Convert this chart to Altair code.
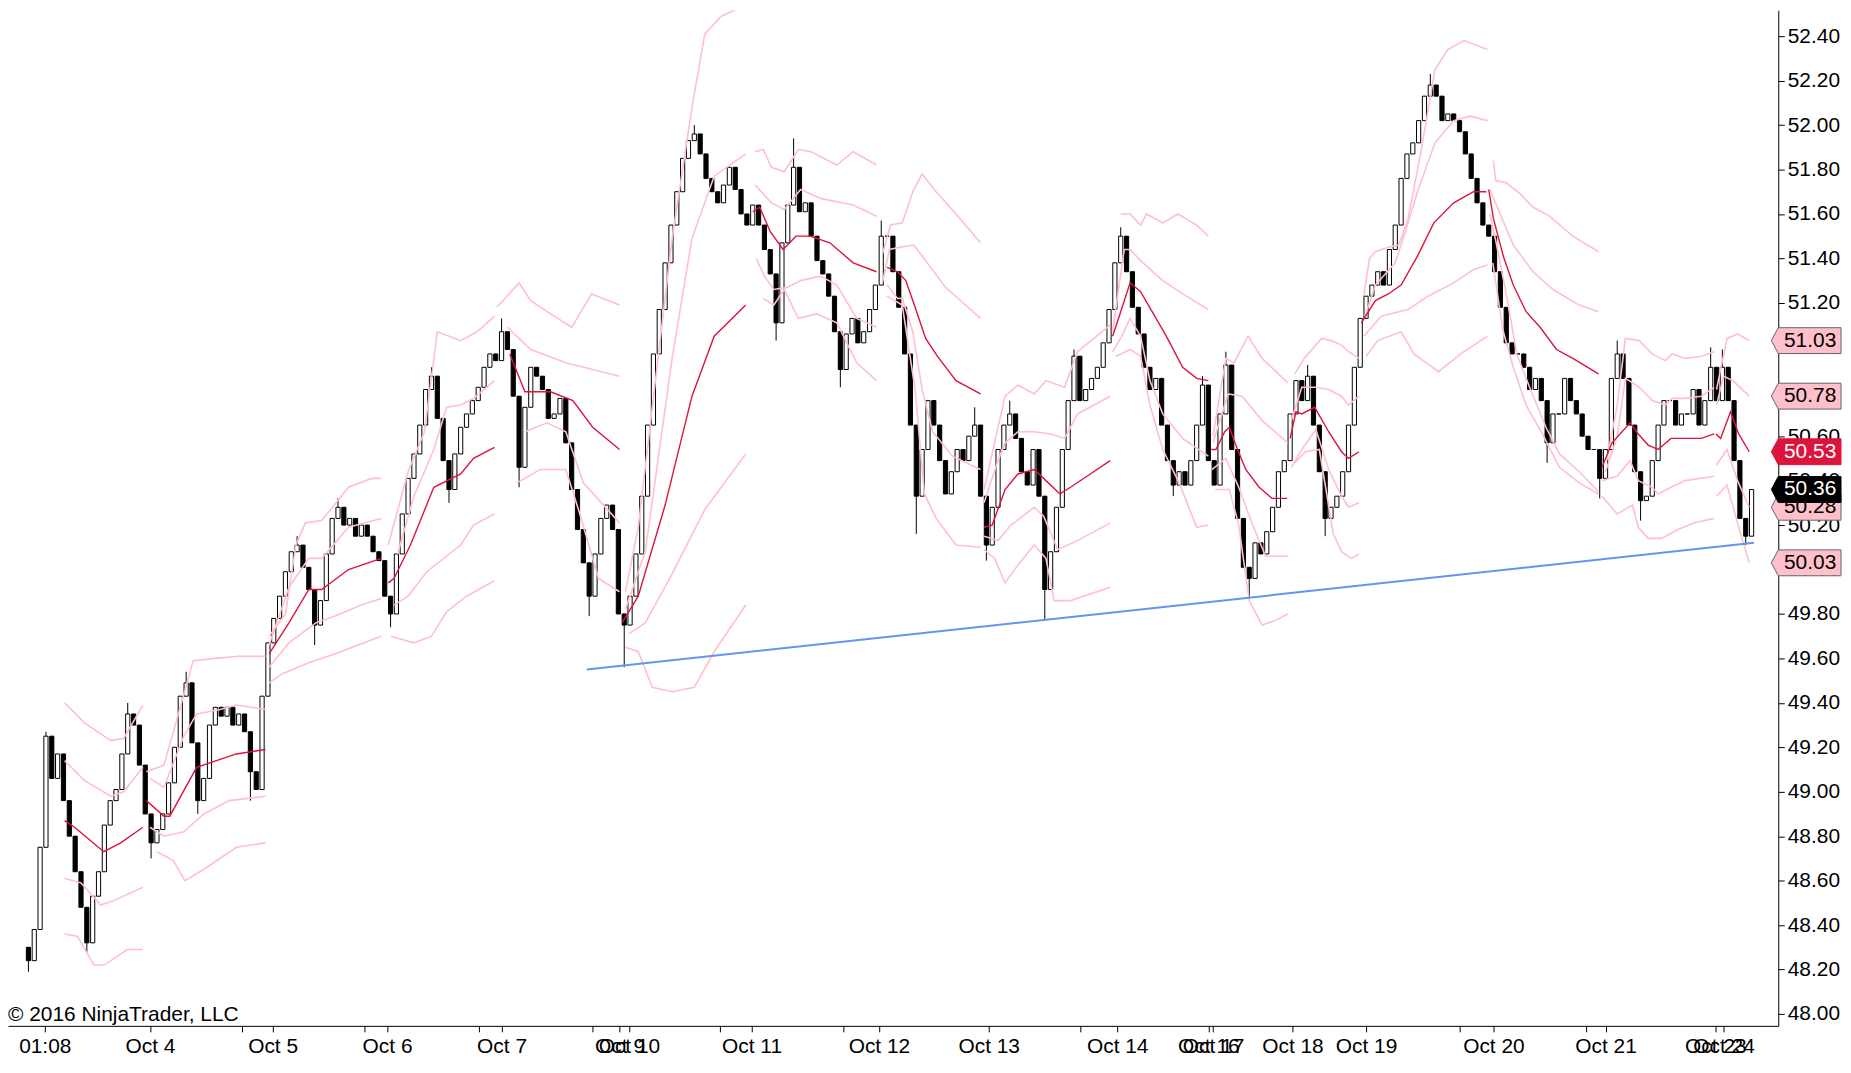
import altair as alt
import pandas as pd

# ---------------- data ----------------
# closing prices, one per bar (bar index 0..295)
closes = [
    48.24, 48.38, 48.75, 49.25, 49.06, 49.17, 48.96, 48.80, 48.64, 48.48,
    48.32, 48.53, 48.64, 48.85, 48.96, 49.01, 49.17, 49.35, 49.30, 49.12,
    48.90, 48.77, 48.83, 48.90, 49.04, 49.20, 49.43, 49.49, 49.22, 48.96,
    49.06, 49.30, 49.38, 49.34, 49.38, 49.30, 49.35, 49.27, 49.09, 49.01,
    49.43, 49.67, 49.78, 49.88, 49.99, 50.08, 50.11, 50.01, 49.91, 49.75,
    49.86, 50.07, 50.23, 50.28, 50.20, 50.23, 50.15, 50.20, 50.15, 50.08,
    50.04, 49.88, 49.80, 50.07, 50.25, 50.41, 50.52, 50.65, 50.81, 50.87,
    50.68, 50.49, 50.36, 50.52, 50.64, 50.70, 50.76, 50.82, 50.91, 50.97,
    50.94, 51.07, 50.99, 50.78, 50.46, 50.73, 50.91, 50.87, 50.81, 50.68,
    50.70, 50.77, 50.57, 50.36, 50.18, 50.03, 49.88, 50.07, 50.23, 50.29,
    50.18, 49.80, 49.75, 49.88, 50.07, 50.33, 50.65, 50.97, 51.17, 51.38,
    51.55, 51.70, 51.85, 51.93, 51.96, 51.87, 51.76, 51.70, 51.65, 51.73,
    51.81, 51.71, 51.60, 51.55, 51.64, 51.55, 51.44, 51.33, 51.11, 51.47,
    51.64, 51.81, 51.61, 51.65, 51.50, 51.39, 51.33, 51.23, 51.07, 50.90,
    51.06, 51.13, 51.02, 51.07, 51.17, 51.28, 51.50, 51.50, 51.34, 51.18,
    50.97, 50.65, 50.33, 50.54, 50.76, 50.65, 50.49, 50.34, 50.44, 50.54,
    50.49, 50.60, 50.65, 50.33, 50.11, 50.28, 50.54, 50.65, 50.70, 50.59,
    50.44, 50.38, 50.54, 50.33, 49.91, 50.08, 50.28, 50.54, 50.76, 50.96,
    50.76, 50.81, 50.86, 50.91, 51.02, 51.17, 51.38, 51.50, 51.34, 51.18,
    51.06, 50.91, 50.81, 50.86, 50.65, 50.49, 50.38, 50.44, 50.38, 50.49,
    50.65, 50.83, 50.49, 50.38, 50.70, 50.92, 50.54, 50.23, 50.01, 49.96,
    50.12, 50.07, 50.17, 50.28, 50.44, 50.49, 50.70, 50.85, 50.76, 50.87,
    50.65, 50.44, 50.23, 50.28, 50.33, 50.44, 50.65, 50.91, 51.13, 51.23,
    51.28, 51.34, 51.28, 51.44, 51.55, 51.76, 51.87, 51.92, 52.02, 52.13,
    52.18, 52.13, 52.02, 52.05, 52.02, 51.97, 51.87, 51.76, 51.65, 51.55,
    51.50, 51.34, 51.18, 51.02, 50.97, 50.97, 50.91, 50.81, 50.86, 50.76,
    50.57, 50.70, 50.70, 50.86, 50.76, 50.70, 50.60, 50.54, 50.54, 50.41,
    50.54, 50.86, 50.97, 50.86, 50.65, 50.44, 50.31, 50.33, 50.49, 50.65,
    50.76, 50.76, 50.65, 50.70, 50.70, 50.81, 50.65, 50.76, 50.91, 50.76,
    50.91, 50.76, 50.49, 50.23, 50.15, 50.36,
]
first_open = 48.30

# wick extremes seen on individual bars (bar index -> price)
wick_highs = {3: 49.27, 17: 49.40, 27: 49.54, 46: 50.15, 53: 50.32, 69: 50.91,
              81: 51.13, 114: 52.00, 131: 51.94, 146: 51.57, 162: 50.73,
              168: 50.76, 179: 50.99, 187: 51.54, 201: 50.87, 205: 50.98,
              219: 50.92, 240: 52.23, 272: 51.03, 288: 51.00, 290: 50.99}
wick_lows = {0: 48.19, 10: 48.28, 21: 48.70, 29: 48.90, 38: 48.96, 49: 49.66,
             62: 49.74, 72: 50.30, 84: 50.37, 96: 49.79, 102: 49.56,
             128: 51.03, 139: 50.82, 152: 50.16, 164: 50.04, 174: 49.77,
             196: 50.33, 209: 49.87, 222: 50.15, 260: 50.48, 269: 50.32,
             276: 50.22, 294: 50.11}

# x-axis ticks (bar positions) and their labels ('' = unlabeled tick)
tick_pos = [2.8, 20.8, 36.6, 41.8, 57.6, 61.4, 77.2, 81.0, 96.6, 101.2, 102.8,
            118.4, 123.8, 139.6, 145.6, 164.4, 180.0, 186.4, 202.0, 202.8,
            216.4, 229.0, 245.0, 250.8, 266.6, 270.0, 288.8, 290.2]
tick_text = ["01:08", "Oct 4", "", "Oct 5", "", "Oct 6", "", "Oct 7", "",
             "Oct 9", "Oct 10", "", "Oct 11", "", "Oct 12", "Oct 13", "",
             "Oct 14", "Oct 16", "Oct 17", "Oct 18", "Oct 19", "", "Oct 20",
             "", "Oct 21", "Oct 23", "Oct 24"]

price_ticks = [round(48.0 + 0.2 * k, 2) for k in range(23)]

# session bands: lists of segments, each a list of (bar, price)
mid_segs = [
    [(6.2, 48.87), (7.9, 48.84), (12.9, 48.73), (15.8, 48.77), (19.6, 48.84)],
    [(20.2, 48.96), (23.2, 48.89), (24.2, 48.89), (28.8, 49.11), (35.6, 49.17), (40.6, 49.19)],
    [(41.2, 49.62), (44.6, 49.76), (48.0, 49.91), (50.2, 49.91), (54.8, 50.00), (60.4, 50.05)],
    [(61.6, 49.94), (62.6, 49.96), (65.4, 50.11), (69.4, 50.37), (74.0, 50.43), (76.2, 50.50), (79.8, 50.55)],
    [(82.4, 50.97), (85.0, 50.80), (89.4, 50.80), (93.2, 50.76), (96.6, 50.64), (101.2, 50.54)],
    [(101.6, 49.76), (104.4, 49.88), (109.0, 50.29), (113.6, 50.78), (117.4, 51.05), (122.8, 51.19)],
    [(124.0, 51.61), (125.2, 51.63), (127.0, 51.52), (129.2, 51.44), (131.4, 51.50), (133.8, 51.50),
     (137.2, 51.47), (141.2, 51.38), (145.2, 51.34)],
    [(147.0, 51.36), (148.8, 51.34), (150.2, 51.30), (151.8, 51.18), (153.6, 51.04), (155.6, 50.96),
     (158.8, 50.85), (163.0, 50.79)],
    [(163.6, 50.19), (165.0, 50.20), (167.2, 50.36), (169.4, 50.43), (172.2, 50.45), (174.2, 50.40),
     (176.6, 50.34), (178.4, 50.37), (181.8, 50.43), (185.2, 50.49)],
    [(185.6, 51.05), (187.0, 51.16), (188.6, 51.29), (190.4, 51.25), (192.6, 51.15), (194.8, 51.05),
     (197.6, 50.91), (200.0, 50.86), (202.0, 50.85)],
    [(202.5, 50.54), (203.3, 50.54), (204.8, 50.62), (205.6, 50.64), (206.7, 50.56), (208.4, 50.45),
     (210.7, 50.37), (212.9, 50.32), (215.5, 50.32)],
    [(216.0, 50.59), (217.0, 50.71), (218.0, 50.70), (220.2, 50.73), (222.6, 50.62), (224.8, 50.53),
     (226.0, 50.50), (227.8, 50.53)],
    [(228.2, 51.11), (230.6, 51.21), (232.8, 51.24), (235.0, 51.28), (237.8, 51.41), (240.6, 51.56),
     (244.0, 51.65), (247.4, 51.70), (249.6, 51.70)],
    [(250.0, 51.71), (250.8, 51.58), (252.5, 51.41), (254.2, 51.28), (256.4, 51.16), (258.8, 51.09),
     (261.6, 50.99), (264.4, 50.95), (268.8, 50.88)],
    [(269.4, 50.46), (271.1, 50.57), (274.2, 50.66), (275.6, 50.61), (277.3, 50.56), (279.0, 50.54),
     (281.2, 50.59), (283.6, 50.59), (286.4, 50.59), (288.6, 50.61)],
    [(288.9, 50.61), (289.7, 50.59), (291.4, 50.71), (292.8, 50.61), (294.6, 50.53)],
]
up2_segs = [
    [(6.2, 49.40), (9.6, 49.31), (14.1, 49.23), (16.3, 49.24), (19.6, 49.39)],
    [(20.2, 49.09), (23.2, 49.12), (26.0, 49.38), (28.2, 49.59), (32.0, 49.60), (36.0, 49.61), (40.6, 49.61)],
    [(41.2, 49.70), (44.0, 49.80), (45.8, 50.11), (47.4, 50.21), (50.2, 50.22), (54.8, 50.37), (58.8, 50.41), (60.4, 50.41)],
    [(61.6, 50.11), (65.0, 50.44), (67.8, 50.62), (70.0, 51.07), (74.0, 51.03), (76.8, 51.07), (79.8, 51.14)],
    [(80.2, 51.18), (84.0, 51.29), (86.0, 51.21), (89.4, 51.15), (93.0, 51.09), (96.4, 51.24), (101.2, 51.19)],
    [(102.2, 49.90), (104.4, 50.19), (110.2, 51.49), (113.6, 52.08), (115.8, 52.41), (118.6, 52.49), (122.8, 52.54)],
    [(124.4, 51.88), (125.8, 51.89), (127.2, 51.81), (129.4, 51.79), (131.8, 51.89), (134.0, 51.88),
     (138.4, 51.82), (141.2, 51.88), (145.2, 51.82)],
    [(146.2, 51.42), (147.6, 51.55), (149.6, 51.56), (151.4, 51.70), (153.0, 51.78), (155.4, 51.70),
     (158.8, 51.60), (163.0, 51.47)],
    [(163.6, 50.36), (167.2, 50.78), (169.4, 50.83), (172.2, 50.79), (174.2, 50.85), (177.4, 50.82),
     (179.6, 50.98), (185.2, 51.10)],
    [(187.0, 51.60), (188.6, 51.60), (190.4, 51.55), (191.4, 51.60), (194.2, 51.56), (196.8, 51.60),
     (200.0, 51.55), (202.0, 51.50)],
    [(202.8, 50.60), (205.0, 50.95), (206.4, 50.93), (208.8, 51.05), (211.2, 50.95), (215.6, 50.84)],
    [(216.8, 50.88), (218.4, 50.95), (221.4, 51.04), (223.0, 51.03), (224.8, 51.01), (226.0, 50.98), (227.8, 50.95)],
    [(228.6, 51.23), (229.6, 51.40), (230.6, 51.43), (232.8, 51.45), (234.6, 51.46), (236.2, 51.58),
     (238.4, 51.88), (240.8, 52.25), (243.0, 52.34), (245.8, 52.38), (249.8, 52.34)],
    [(250.8, 51.84), (251.2, 51.75), (253.0, 51.74), (255.4, 51.69), (257.6, 51.63), (260.4, 51.59),
     (264.4, 51.50), (268.8, 51.43)],
    [(270.2, 50.49), (272.0, 50.74), (273.4, 51.04), (275.8, 51.03), (278.0, 50.97), (280.2, 50.94),
     (281.4, 50.97), (283.6, 50.95), (286.4, 50.96), (288.6, 50.98)],
    [(289.0, 50.81), (290.8, 51.04), (292.6, 51.06), (294.6, 51.03)],
]
up1_segs = [
    [(6.2, 49.14), (9.6, 49.05), (14.1, 48.98), (16.3, 49.00), (19.6, 49.11)],
    [(20.8, 49.06), (23.2, 49.02), (26.6, 49.25), (28.8, 49.35), (32.8, 49.37), (35.6, 49.39), (40.6, 49.37)],
    [(41.2, 49.66), (44.6, 49.92), (48.0, 50.05), (50.2, 50.05), (54.8, 50.19), (60.4, 50.23)],
    [(63.2, 50.07), (66.0, 50.33), (69.4, 50.54), (71.6, 50.73), (74.0, 50.74), (76.2, 50.77), (79.8, 50.85)],
    [(82.0, 51.09), (86.0, 50.99), (92.0, 50.93), (101.2, 50.87)],
    [(102.2, 49.82), (105.6, 50.08), (110.2, 50.95), (113.6, 51.49), (117.4, 51.77), (122.8, 51.87)],
    [(124.4, 51.73), (127.2, 51.65), (129.4, 51.62), (132.2, 51.71), (135.6, 51.67), (141.2, 51.64), (145.2, 51.59)],
    [(146.2, 51.29), (147.4, 51.44), (149.2, 51.45), (151.6, 51.46), (153.6, 51.39), (157.0, 51.27), (163.0, 51.13)],
    [(163.6, 50.30), (166.0, 50.49), (167.2, 50.57), (169.4, 50.62), (172.2, 50.62), (175.0, 50.61),
     (177.4, 50.59), (179.6, 50.70), (185.2, 50.78)],
    [(185.6, 51.07), (187.6, 51.44), (188.6, 51.44), (190.4, 51.39), (194.2, 51.30), (197.6, 51.24), (202.0, 51.17)],
    [(202.8, 50.57), (205.4, 50.79), (207.8, 50.78), (211.2, 50.67), (215.6, 50.57)],
    [(216.2, 50.67), (218.0, 50.82), (220.4, 50.82), (222.6, 50.81), (224.8, 50.78), (226.0, 50.74), (227.8, 50.78)],
    [(228.8, 51.14), (230.6, 51.28), (234.0, 51.38), (235.6, 51.51), (237.8, 51.70), (240.8, 51.92),
     (244.0, 52.02), (246.8, 52.04), (249.8, 52.02)],
    [(250.2, 51.71), (251.8, 51.61), (254.2, 51.46), (257.6, 51.34), (261.0, 51.26), (265.5, 51.19), (268.8, 51.16)],
    [(270.0, 50.44), (272.0, 50.60), (273.4, 50.86), (275.8, 50.82), (278.0, 50.76), (280.2, 50.74),
     (281.4, 50.77), (283.6, 50.77), (286.4, 50.78), (288.6, 50.82)],
    [(289.0, 50.74), (290.2, 50.87), (291.8, 50.85), (294.6, 50.78)],
]
lo1_segs = [
    [(6.2, 48.61), (9.0, 48.59), (12.4, 48.49), (14.6, 48.51), (19.6, 48.57)],
    [(20.8, 48.84), (23.2, 48.80), (26.6, 48.82), (30.0, 48.90), (34.4, 48.96), (40.6, 48.98)],
    [(41.2, 49.56), (44.6, 49.67), (49.2, 49.76), (52.4, 49.79), (57.0, 49.84), (60.4, 49.87)],
    [(62.6, 49.84), (65.0, 49.88), (68.2, 49.99), (74.0, 50.11), (76.2, 50.20), (79.8, 50.25)],
    [(85.0, 50.62), (88.8, 50.66), (92.0, 50.62), (95.0, 50.39), (101.2, 50.21)],
    [(102.8, 49.71), (105.6, 49.76), (110.2, 49.98), (115.8, 50.27), (122.8, 50.52)],
    [(124.6, 51.40), (126.0, 51.32), (127.6, 51.26), (130.0, 51.27), (132.2, 51.30), (135.6, 51.32),
     (138.4, 51.28), (141.8, 51.13), (145.2, 51.09)],
    [(147.0, 51.28), (148.8, 51.22), (149.6, 51.22), (151.4, 51.07), (153.0, 50.81), (154.8, 50.62),
     (158.2, 50.51), (163.0, 50.45)],
    [(163.6, 50.15), (166.0, 50.13), (168.2, 50.20), (172.2, 50.28), (173.8, 50.24), (176.2, 50.09),
     (179.6, 50.13), (185.2, 50.21)],
    [(185.6, 50.98), (187.2, 51.05), (188.6, 51.13), (190.4, 51.05), (192.0, 50.85), (194.2, 50.70),
     (197.6, 50.59), (202.0, 50.51)],
    [(202.6, 50.45), (205.0, 50.50), (207.2, 50.37), (209.6, 50.20), (211.8, 50.06), (215.6, 50.06)],
    [(216.2, 50.46), (218.0, 50.54), (220.4, 50.63), (222.6, 50.45), (224.8, 50.33), (226.0, 50.28), (227.8, 50.30)],
    [(228.6, 51.05), (231.6, 51.14), (236.2, 51.17), (239.6, 51.23), (244.0, 51.29), (247.4, 51.35), (249.8, 51.37)],
    [(250.2, 51.60), (251.2, 51.48), (253.0, 51.24), (254.8, 50.97), (257.0, 50.82), (259.8, 50.64),
     (262.1, 50.52), (265.5, 50.44), (268.8, 50.35)],
    [(269.4, 50.40), (272.0, 50.42), (274.2, 50.49), (275.6, 50.40), (278.0, 50.37), (279.0, 50.34),
     (281.2, 50.37), (283.6, 50.40), (288.6, 50.42)],
    [(289.0, 50.47), (290.8, 50.54), (292.6, 50.40), (294.6, 50.28)],
]
lo2_segs = [
    [(6.2, 48.36), (8.4, 48.35), (11.2, 48.22), (13.0, 48.22), (16.9, 48.29), (19.6, 48.29)],
    [(22.0, 48.73), (24.8, 48.69), (26.8, 48.60), (30.0, 48.65), (35.6, 48.75), (40.6, 48.77)],
    [(41.2, 49.49), (43.4, 49.53), (48.0, 49.58), (52.4, 49.62), (60.4, 49.70)],
    [(62.0, 49.70), (66.0, 49.67), (69.0, 49.70), (71.6, 49.81), (75.0, 49.88), (79.8, 49.95)],
    [(83.6, 50.39), (87.6, 50.45), (92.0, 50.45), (94.4, 50.25), (97.6, 49.96), (101.2, 49.90)],
    [(102.2, 49.65), (104.4, 49.63), (106.8, 49.47), (110.2, 49.45), (114.0, 49.47), (117.4, 49.63), (122.8, 49.84)],
    [(125.8, 51.22), (127.6, 51.19), (129.4, 51.26), (131.8, 51.13), (135.0, 51.15), (138.4, 51.11),
     (141.8, 50.93), (145.2, 50.85)],
    [(147.0, 51.23), (149.6, 51.19), (151.8, 50.81), (153.4, 50.34), (155.4, 50.23), (158.8, 50.11), (163.0, 50.10)],
    [(163.6, 50.09), (165.4, 50.05), (167.2, 49.94), (169.4, 50.02), (172.2, 50.11), (174.2, 50.05),
     (175.6, 49.86), (178.4, 49.86), (185.2, 49.92)],
    [(186.2, 50.96), (188.6, 50.99), (190.4, 50.96), (192.0, 50.74), (194.2, 50.54), (197.0, 50.39),
     (200.0, 50.19), (202.0, 50.20)],
    [(203.2, 50.36), (205.6, 50.36), (207.2, 50.20), (209.0, 49.86), (211.2, 49.75), (213.4, 49.77), (215.6, 49.80)],
    [(216.8, 50.48), (218.6, 50.53), (221.0, 50.54), (223.4, 50.16), (224.8, 50.08), (226.4, 50.05), (227.8, 50.07)],
    [(229.0, 50.96), (231.0, 51.03), (235.0, 51.07), (237.2, 50.97), (241.4, 50.89), (245.2, 50.97), (249.8, 51.05)],
    [(250.7, 51.38), (252.4, 51.08), (254.2, 50.91), (256.4, 50.74), (259.2, 50.61), (262.1, 50.46),
     (265.5, 50.39), (268.8, 50.34)],
    [(269.4, 50.33), (272.0, 50.25), (274.6, 50.29), (275.6, 50.19), (277.3, 50.14), (279.6, 50.14),
     (282.4, 50.18), (285.2, 50.21), (288.6, 50.23)],
    [(289.0, 50.33), (290.8, 50.38), (292.8, 50.19), (294.6, 50.03)],
]

# trend line drawn on the chart (start / end)
trend_b = [95.6, 295.4]
trend_v = [49.55, 50.12]

# ---------------- tables ----------------
opens = [first_open] + closes[:-1]
candle_rows = []
for i, (o, c) in enumerate(zip(opens, closes)):
    hi = max(o, c, wick_highs.get(i, o))
    lo = min(o, c, wick_lows.get(i, o))
    candle_rows.append({"b": i, "open": o, "close": c, "high": hi, "low": lo, "up": c >= o})
candles = pd.DataFrame(candle_rows)

band_rows = []
for name, segs in [("mid", mid_segs), ("u2", up2_segs), ("u1", up1_segs),
                   ("l1", lo1_segs), ("l2", lo2_segs)]:
    for si, seg in enumerate(segs):
        for b, v in seg:
            band_rows.append({"band": name, "seg": f"{name}{si}", "b": b, "v": v})
bands = pd.DataFrame(band_rows)
pink_bands = bands[bands.band != "mid"]
mid_bands = bands[bands.band == "mid"]

trend = pd.DataFrame({"b": trend_b, "v": trend_v})

markers = pd.DataFrame([
    {"v": up2_segs[-1][-1][1], "fill": "#FFC0CB", "stroke": "#666666", "tc": "black", "grp": 0},
    {"v": up1_segs[-1][-1][1], "fill": "#FFC0CB", "stroke": "#666666", "tc": "black", "grp": 0},
    {"v": lo1_segs[-1][-1][1], "fill": "#FFC0CB", "stroke": "#666666", "tc": "black", "grp": 0},
    {"v": lo2_segs[-1][-1][1], "fill": "#FFC0CB", "stroke": "#666666", "tc": "black", "grp": 0},
    {"v": mid_segs[-1][-1][1], "fill": "#DC143C", "stroke": "#DC143C", "tc": "white", "grp": 1},
    {"v": closes[-1], "fill": "#000000", "stroke": "#000000", "tc": "white", "grp": 2},
])
markers["label"] = markers["v"].map(lambda x: f"{x:.2f}")

# ---------------- encodings ----------------
W, H = 1778, 1020
FONT = "Liberation Sans"

label_expr = ""
for p, t in zip(tick_pos, tick_text):
    label_expr += f"datum.value == {p} ? '{t}' : "
label_expr += "''"

x_scale = alt.Scale(domain=[-2.644, 298.72], nice=False, zero=False)
x_axis = alt.Axis(values=tick_pos, labelExpr=label_expr, grid=False, title=None,
                  tickSize=6, labelPadding=4, labelFontSize=21, labelFont=FONT,
                  labelColor="black", domainColor="black", tickColor="black",
                  labelOverlap=False, labelFlush=False, labelBound=False)
y_scale = alt.Scale(domain=[47.9465, 52.5165], nice=False, zero=False)
y_axis = alt.Axis(orient="right", values=price_ticks, format=".2f", grid=False,
                  title=None, tickSize=6, labelPadding=3, labelFontSize=21,
                  labelFont=FONT, labelColor="black", domainColor="black",
                  tickColor="black", labelOverlap=False, labelFlush=False)


def X(field="b"):
    return alt.X(f"{field}:Q", scale=x_scale, axis=x_axis, title=None)


def Y(field):
    return alt.Y(f"{field}:Q", scale=y_scale, axis=y_axis, title=None)


wicks = alt.Chart(candles).mark_rule(color="black", strokeWidth=1).encode(
    x=X(), y=Y("low"), y2="high")

bodies = alt.Chart(candles).mark_bar(width=4.2, stroke="black", strokeWidth=1).encode(
    x=X(), y=Y("open"), y2="close",
    fill=alt.condition("datum.up", alt.value("white"), alt.value("black")))

pink = alt.Chart(pink_bands).mark_line(color="#FFC0CB", strokeWidth=1.6, clip=True).encode(
    x=X(), y=Y("v"), detail="seg:N", order="b:Q")

red = alt.Chart(mid_bands).mark_line(color="#DC143C", strokeWidth=1.4, clip=True).encode(
    x=X(), y=Y("v"), detail="seg:N", order="b:Q")

trend_line = alt.Chart(trend).mark_line(color="#6495ED", strokeWidth=2).encode(
    x=X(), y=Y("v"))

copyright_txt = alt.Chart(pd.DataFrame({"t": ["\u00a9 2016 NinjaTrader, LLC"]})).mark_text(
    align="left", baseline="middle", fontSize=21, font=FONT, color="black").encode(
    x=alt.value(0), y=alt.value(1009), text="t:N")

shape_path = "M -1 0 L -0.8 -0.371 L 1 -0.371 L 1 0.371 L -0.8 0.371 Z"
marker_layers = []
for g in [0, 1, 2]:
    sub = markers[markers.grp == g]
    shp = alt.Chart(sub).mark_point(shape=shape_path, size=4900, filled=True,
                                    opacity=1, strokeWidth=1).encode(
        x=alt.value(1806), y=Y("v"),
        fill=alt.Color("fill:N", scale=None),
        stroke=alt.Color("stroke:N", scale=None))
    txt = alt.Chart(sub).mark_text(fontSize=21, font=FONT, align="center",
                                   baseline="middle").encode(
        x=alt.value(1810), y=Y("v"), text="label:N",
        color=alt.Color("tc:N", scale=None))
    marker_layers += [shp, txt]

chart = alt.layer(wicks, bodies, pink, red, trend_line, copyright_txt,
                  *marker_layers).properties(
    width=W, height=H, padding=0, background="white"
).configure(font=FONT).configure_view(strokeWidth=0, stroke=None)

chart.save("out.html", embed_options={"renderer": "svg", "actions": False})
